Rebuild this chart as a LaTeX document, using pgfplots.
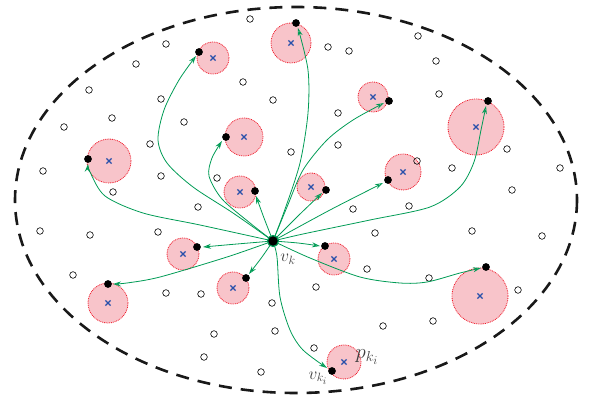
\documentclass[border=0pt]{standalone}
\usepackage{pgfplots}
\pgfplotsset{compat=1.18}
\usepackage{pgfplotstable}
\usetikzlibrary{arrows.meta}
\definecolor{arrowgreen}{RGB}{0,155,85}
\definecolor{zonepink}{RGB}{248,196,202}
\definecolor{zonered}{RGB}{240,30,45}
\definecolor{crossblue}{RGB}{40,80,170}

% pink zones: centre and radius
\pgfplotstableread{
x y r
109 161 22
213 58 16
244 137 19
240 192 16
291 43 20
373 97 15
476 127 28
403 172 18
311 187 14
183 254 16
108 303 20
233 288 16
334 259 16
480 296 28
344 362 17
}\zones

% black points on the zone edges
\pgfplotstableread{
x y
88 159
199 52
226 137
255 191
296 23
389 101
488 101
388 180
326 190
197 247
108 284
246 278
325 246
486 267
332 371
}\hits

% hollow points
\pgfplotstableread{
x y
250 19
166 44
136 64
89 90
161 99
243 82
273 100
112 118
64 127
184 122
150 144
43 171
161 176
113 192
217 178
291 152
418 36
328 47
349 51
436 61
439 94
338 113
338 145
507 149
452 168
560 168
417 161
512 190
40 231
90 235
158 232
198 207
73 275
166 293
201 294
272 303
214 334
275 331
204 357
261 372
353 209
409 206
375 233
472 231
542 236
367 269
429 278
518 290
316 287
383 326
433 321
314 348
}\free

\begin{document}
\begin{tikzpicture}
\begin{axis}[
    scale only axis, width=592pt, height=403pt,
    xmin=0, xmax=592, ymin=0, ymax=403, y dir=reverse,
    hide axis, clip=false, clip marker paths=true,
    every axis plot/.append style={line join=round},
]
% page frame (invisible)
\path (axis cs:0,0) rectangle (axis cs:592,403);

% outer region
\draw[black!90, line width=2.6pt, dash pattern=on 13pt off 9pt]
    (axis cs:296,200) ellipse [x radius=281, y radius=193];

% zones
\addplot[scatter, only marks, mark=*,
    visualization depends on={\thisrow{r} \as \rad},
    scatter/use mapped color={fill=zonepink, draw=zonered},
    scatter/@pre marker code/.append style={/tikz/mark size=\rad},
    mark options={dash pattern=on 0.9pt off 0.9pt, line width=0.8pt}]
    table[x=x, y=y] {\zones};

% hollow points
\addplot[only marks, mark=o, mark size=3.3pt, mark options={black, line width=0.6pt}]
    table[x=x, y=y] {\free};

% arrows
\pgfplotsset{arr/.style={arrowgreen, line width=0.8pt, smooth, tension=0.5,
    -{Stealth[open, length=8pt, width=5pt]}}}
\addplot[arr] coordinates {(273,241) (284,212) (300,163) (308,113) (308,70) (298,28)};
\addplot[arr] coordinates {(273,241) (233,213) (193,187) (167,163) (158,140) (164,110) (179,80) (196,56)};
\addplot[arr] coordinates {(273,241) (250,223) (222,199) (209,176) (212,158) (222,141)};
\addplot[arr] coordinates {(273,241) (264,218) (256,196)};
\addplot[arr] coordinates {(273,241) (200,225) (143,213) (105,196) (90,172) (88,164)};
\addplot[arr] coordinates {(273,241) (237,244) (203,247)};
\addplot[arr] coordinates {(273,241) (227,257) (160,277) (127,283) (113,284)};
\addplot[arr] coordinates {(273,241) (262,257) (249,274)};
\addplot[arr] coordinates {(273,241) (277,257) (280,297) (290,330) (303,350) (327,368)};
\addplot[arr] coordinates {(273,241) (298,243) (320,246)};
\addplot[arr] coordinates {(273,241) (310,258) (360,277) (400,283) (427,282) (460,273) (481,268)};
\addplot[arr] coordinates {(273,241) (303,234) (370,220) (430,207) (460,187) (474,162) (481,130) (486,106)};
\addplot[arr] coordinates {(273,241) (330,210) (383,183)};
\addplot[arr] coordinates {(273,241) (298,216) (322,193)};
\addplot[arr] coordinates {(273,241) (287,207) (303,170) (327,140) (353,120) (384,103)};

% edge points
\addplot[only marks, mark=*, mark size=3.6pt, mark options={black}]
    table[x=x, y=y] {\hits};

% zone centres
\addplot[only marks, mark=x, mark size=3.6pt, mark options={crossblue, line width=1.3pt}]
    table[x=x, y=y] {\zones};

% current node
\addplot[only marks, mark=*, mark size=5.5pt,
    mark options={fill=black, draw=arrowgreen, line width=1.2pt}]
    coordinates {(273,241)};

\node[black!75, font=\LARGE] at (axis cs:288,259) {$v_k$};
\node[black!75, font=\huge] at (axis cs:367,357) {$p_{k_i}$};
\node[black!75, font=\LARGE] at (axis cs:318,378) {$v_{k_i}$};
\end{axis}
\end{tikzpicture}
\end{document}
